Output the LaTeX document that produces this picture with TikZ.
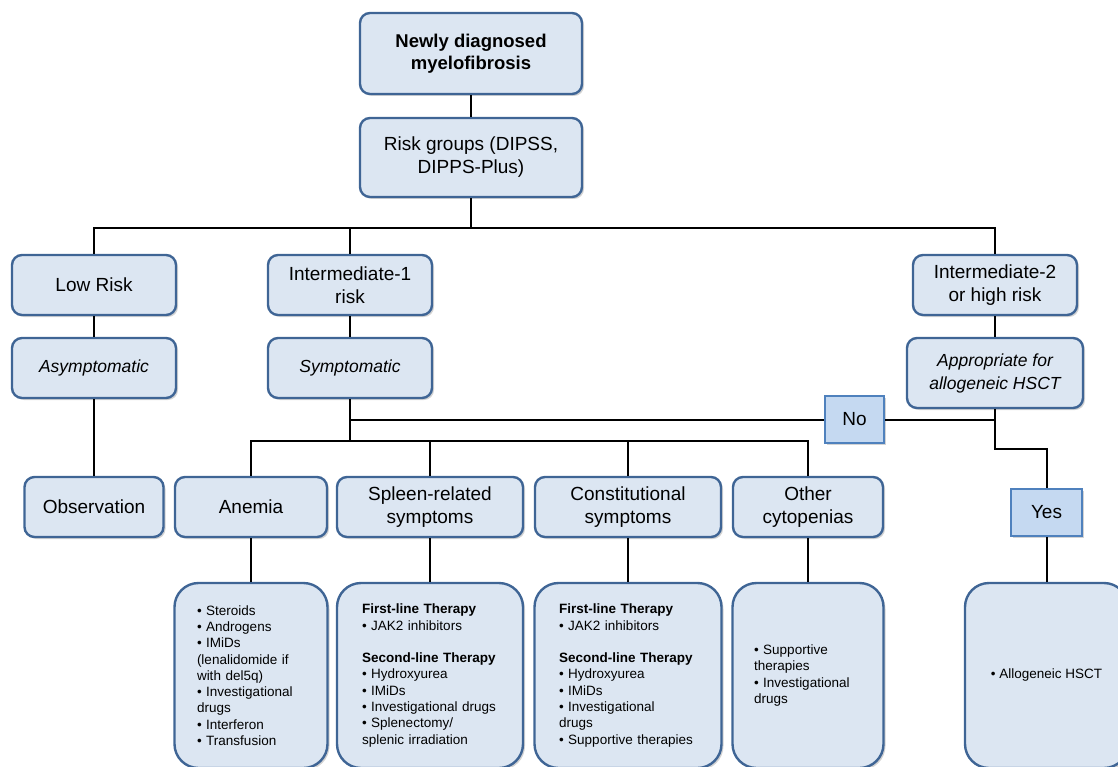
\documentclass[tikz,border=0pt]{standalone}
\usepackage{fontspec}
\setmainfont{Liberation Sans}
\usetikzlibrary{shadows}
\definecolor{boxfill}{HTML}{DCE6F2}
\definecolor{boxdraw}{HTML}{3F6595}
\definecolor{ynfill}{HTML}{C5D9F1}
\definecolor{yndraw}{HTML}{4F81BD}
\tikzset{
  base/.style={draw=boxdraw, fill=boxfill, line width=2.4pt, inner sep=2pt,
    drop shadow={opacity=0.35, shadow xshift=2pt, shadow yshift=-2pt},
    font=\fontsize{19}{23}\selectfont, align=center},
  rbox/.style={base, rounded corners=10pt},
  dbox/.style={base, rounded corners=24pt, font=\fontsize{13.5}{16.3}\selectfont, align=left},
  yn/.style={base, draw=yndraw, fill=ynfill, rounded corners=0pt},
  conn/.style={line width=2pt, black}
}
\begin{document}
\begin{tikzpicture}[x=1pt, y=-1pt]
\useasboundingbox (0,0) rectangle (1118,767);
% top
\node[rbox, minimum width=222, minimum height=81, font=\fontsize{18.5}{22.5}\selectfont\bfseries] (title) at (471,53.5) {Newly diagnosed\\myelofibrosis};
\node[rbox, minimum width=222, minimum height=79] (risk) at (471,157.5) {Risk groups (DIPSS,\\DIPPS-Plus)};
% risk groups
\node[rbox, minimum width=164, minimum height=60] (low) at (94,285) {Low Risk};
\node[rbox, minimum width=164, minimum height=60] (int1) at (350,285) {Intermediate-1\\risk};
\node[rbox, minimum width=164, minimum height=60] (int2) at (995,285) {Intermediate-2\\or high risk};
\node[rbox, minimum width=164, minimum height=60, font=\fontsize{17.5}{22}\selectfont\itshape] (asym) at (94,368) {Asymptomatic};
\node[rbox, minimum width=164, minimum height=60, font=\fontsize{17.5}{22}\selectfont\itshape] (sympt) at (350,368) {Symptomatic};
\node[rbox, minimum width=176, minimum height=70, font=\fontsize{17.5}{23}\selectfont\itshape] (approp) at (995,373) {Appropriate for\\allogeneic HSCT};
% decisions
\node[yn, minimum width=59, minimum height=47] (no) at (854.5,419.5) {No};
\node[yn, minimum width=71, minimum height=47] (yes) at (1046.5,512.5) {Yes};
% middle row
\node[rbox, minimum width=139, minimum height=60] (obs) at (94,507) {Observation};
\node[rbox, minimum width=152, minimum height=60] (anemia) at (251,507) {Anemia};
\node[rbox, minimum width=186, minimum height=60] (spleen) at (430,507) {Spleen-related\\symptoms};
\node[rbox, minimum width=186, minimum height=60] (const) at (628,507) {Constitutional\\symptoms};
\node[rbox, minimum width=150, minimum height=60] (other) at (808,507) {Other\\cytopenias};
% detail boxes
\node[dbox, minimum width=153, minimum height=185, text width=108] (d1) at (251,675.5) {\textbullet{} Steroids\\\textbullet{} Androgens\\\textbullet{} IMiDs\\(lenalidomide if\\with del5q)\\\textbullet{} Investigational\\drugs\\\textbullet{} Interferon\\\textbullet{} Transfusion};
\node[dbox, minimum width=186, minimum height=185, text width=136] (d2) at (430,675.5) {\textbf{First-line Therapy}\\\textbullet{} JAK2 inhibitors\\[16.3pt]\textbf{Second-line Therapy}\\\textbullet{} Hydroxyurea\\\textbullet{} IMiDs\\\textbullet{} Investigational drugs\\\textbullet{} Splenectomy/\\splenic irradiation};
\node[dbox, minimum width=187, minimum height=185, text width=138] (d3) at (628,675.5) {\textbf{First-line Therapy}\\\textbullet{} JAK2 inhibitors\\[16.3pt]\textbf{Second-line Therapy}\\\textbullet{} Hydroxyurea\\\textbullet{} IMiDs\\\textbullet{} Investigational\\drugs\\\textbullet{} Supportive therapies};
\node[dbox, minimum width=151, minimum height=185, text width=108] (d4) at (808,675.5) {\textbullet{} Supportive\\therapies\\\textbullet{} Investigational\\drugs};
\node[dbox, minimum width=163, minimum height=185, align=center] (d5) at (1046.5,675.5) {\textbullet{} Allogeneic HSCT};
% connectors
\coordinate (bus) at (471,228);
\coordinate (bus2) at (350,441);
\coordinate (jog) at (995,449);
\draw[conn] (title) -- (risk);
\draw[conn] (risk) -- (bus);
\draw[conn] (low.north) |- (bus) -| (int2.north);
\draw[conn] (int1.north) -- (int1.north |- bus);
\draw[conn] (low) -- (asym);
\draw[conn] (asym) -- (obs);
\draw[conn] (int1) -- (sympt);
\draw[conn] (int2) -- (approp);
\draw[conn] (sympt.south) -- (bus2);
\draw[conn] (anemia.north) |- (bus2) -| (other.north);
\draw[conn] (spleen.north) -- (spleen.north |- bus2);
\draw[conn] (const.north) -- (const.north |- bus2);
\draw[conn] (no.west) -- (no.west -| sympt.south);
\draw[conn] (no.east) -- (no.east -| approp.south);
\draw[conn] (approp.south) -- (jog) -| (yes.north);
\draw[conn] (anemia) -- (d1);
\draw[conn] (spleen) -- (d2);
\draw[conn] (const) -- (d3);
\draw[conn] (other) -- (d4);
\draw[conn] (yes) -- (d5);
\end{tikzpicture}
\end{document}
